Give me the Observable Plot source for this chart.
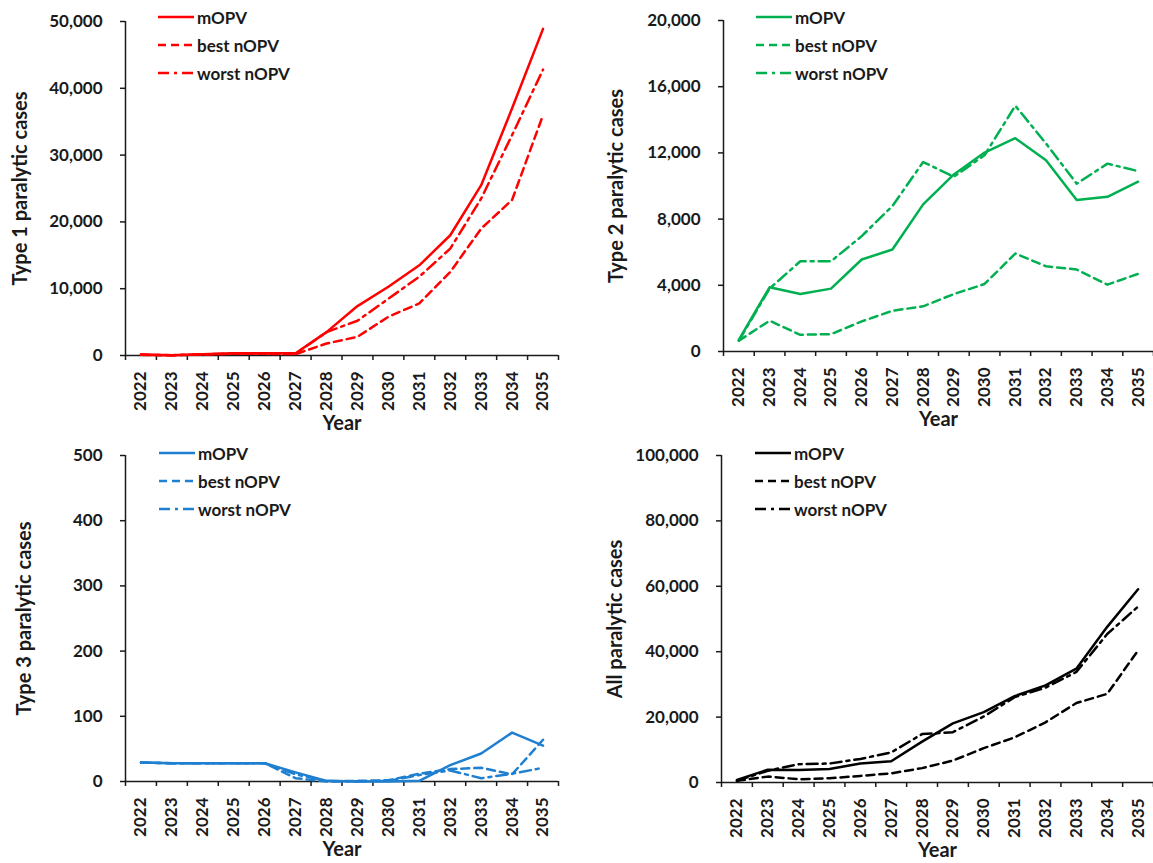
<!DOCTYPE html>
<html><head><meta charset="utf-8">
<script src="https://cdn.jsdelivr.net/npm/d3@7"></script>
<script src="https://cdn.jsdelivr.net/npm/@observablehq/plot@0.6"></script>
<style>
body{margin:0;background:#fff;font-family:Lato,sans-serif}
#wrap{position:relative;width:1153px;height:863px;overflow:hidden}
.panel{position:absolute}
.legend{position:absolute;font:bold 17px Lato,sans-serif;color:#1a1a1a}
.legend .row{position:absolute;left:0;height:28px;display:flex;align-items:center;white-space:nowrap}
.legend svg{display:block;margin-right:3px}
</style></head><body><div id="wrap"></div>
<script>
const years = [2022,2023,2024,2025,2026,2027,2028,2029,2030,2031,2032,2033,2034,2035];
const seriesNames = ["mOPV","best nOPV","worst nOPV"];

const type1Mopv  = [150, 50, 200, 350, 350, 350, 3500, 7400, 10300, 13500, 18000, 25500, 37000, 48900];
const type1Best  = [100, 30, 150, 250, 250, 200, 1800, 2800, 5800, 7800, 12500, 19000, 23300, 36000];
const type1Worst = [120, 40, 180, 300, 300, 300, 3500, 5200, 8500, 11800, 16000, 23500, 33000, 42800];

const type2Mopv  = [700, 3880, 3470, 3800, 5560, 6160, 8890, 10700, 12020, 12890, 11550, 9150, 9350, 10260];
const type2Best  = [650, 1860, 1010, 1050, 1820, 2460, 2730, 3470, 4080, 5920, 5150, 4950, 4040, 4690];
const type2Worst = [650, 3800, 5450, 5450, 6970, 8790, 11450, 10560, 11860, 14850, 12570, 10140, 11350, 10900];

const type3Mopv  = [29, 28, 28, 28, 28, 14, 1, 0, 0, 1, 25, 43, 75, 55];
const type3Best  = [29, 28, 28, 28, 28, 5, 0, 1, 2, 12, 19, 21, 11, 64];
const type3Worst = [29, 28, 28, 28, 28, 11, 1, 0, 1, 10, 17, 5, 12, 21];

const allMopv  = [800, 3900, 3800, 4100, 5800, 6500, 12500, 18100, 21500, 26400, 29700, 34800, 47600, 59100];
const allBest  = [500, 1800, 1000, 1300, 2000, 2800, 4400, 6700, 10500, 13800, 18400, 24300, 27100, 40400];
const allWorst = [500, 3600, 5600, 5800, 7200, 9200, 14800, 15400, 20200, 26100, 29000, 33800, 45400, 53800];

const type1Ticks = [0, 10000, 20000, 30000, 40000, 50000];
const type2Ticks = [0, 4000, 8000, 12000, 16000, 20000];
const type3Ticks = [0, 100, 200, 300, 400, 500];
const allTicks   = [0, 20000, 40000, 60000, 80000, 100000];

const titles = ["Type 1 paralytic cases","Type 2 paralytic cases","Type 3 paralytic cases","All paralytic cases"];
const xTitle = "Year";

const dashes = [null, "8,5", "11,5,3,5"];
const fmt = d3.format(",");
const boundaries = d3.range(years[0] - 0.5, years[years.length-1] + 1, 1);

const panels = [
  {left:0, top:0, width:576, height:430, ml:125, mr:18, mt:21, mb:75, color:"#ff0000",
   series:[type1Mopv,type1Best,type1Worst], ticks:type1Ticks, title:titles[0], tdx:-105,
   legend:{left:158, top:3}},
  {left:576, top:0, width:577, height:430, ml:147, mr:0, mt:20, mb:79, color:"#00b050",
   series:[type2Mopv,type2Best,type2Worst], ticks:type2Ticks, title:titles[1], tdx:-107,
   legend:{left:756, top:3}},
  {left:0, top:430, width:576, height:433, ml:125, mr:18, mt:25, mb:82, color:"#1f7fd0",
   series:[type3Mopv,type3Best,type3Worst], ticks:type3Ticks, title:titles[2], tdx:-101,
   legend:{left:159, top:439}},
  {left:576, top:430, width:577, height:433, ml:145, mr:0, mt:25, mb:81, color:"#000000",
   series:[allMopv,allBest,allWorst], ticks:allTicks, title:titles[3], tdx:-106,
   legend:{left:755, top:439}}
];

const wrap = document.getElementById("wrap");

for (const p of panels) {
  const rows = [];
  p.series.forEach((vals, si) => {
    years.forEach((yr, i) => rows.push({year: yr, value: vals[i], series: seriesNames[si]}));
  });
  const yMax = p.ticks[p.ticks.length - 1];
  const chart = Plot.plot({
    width: p.width, height: p.height,
    marginLeft: p.ml, marginRight: p.mr, marginTop: p.mt, marginBottom: p.mb,
    style: {fontFamily: "Lato, sans-serif", fontSize: "17px", fontWeight: "bold", color: "#1a1a1a", background: "transparent", overflow: "visible"},
    x: {domain: [years[0] - 0.5, years[years.length-1] + 0.5], label: null},
    y: {domain: [0, yMax], label: null},
    marks: [
      Plot.axisY({ticks: p.ticks, tickFormat: fmt, tickSize: 5, tickPadding: 18, strokeWidth: 1.5, label: null}),
      Plot.axisX({ticks: boundaries, tickFormat: () => "", tickSize: 5, strokeWidth: 1.5, label: null}),
      Plot.axisX({ticks: years, tickFormat: d => String(d), tickSize: 0, tickPadding: 16, tickRotate: -90, label: null}),
      Plot.ruleX([years[0] - 0.5], {stroke: "#1a1a1a", strokeWidth: 1.5}),
      Plot.ruleY([0], {stroke: "#1a1a1a", strokeWidth: 1.5}),
      ...seriesNames.map((name, si) => Plot.line(rows.filter(r => r.series === name), {
        x: "year", y: "value", stroke: p.color, strokeWidth: 2.5,
        strokeDasharray: dashes[si] || undefined, strokeLinejoin: "round"
      })),
      Plot.text([p.title], {text: d => d, frameAnchor: "left", textAnchor: "middle", dx: p.tdx, rotate: -90, fontSize: 20, fontWeight: "bold", fill: "#1a1a1a"}),
      Plot.text([xTitle], {text: d => d, frameAnchor: "bottom", textAnchor: "middle", dy: 74, fontSize: 20, fontWeight: "bold", fill: "#1a1a1a"})
    ]
  });
  const div = document.createElement("div");
  div.className = "panel";
  div.style.left = p.left + "px";
  div.style.top = p.top + "px";
  div.appendChild(chart);
  wrap.appendChild(div);

  const leg = document.createElement("div");
  leg.className = "legend";
  leg.style.left = p.legend.left + "px";
  leg.style.top = p.legend.top + "px";
  seriesNames.forEach((name, si) => {
    const row = document.createElement("div");
    row.className = "row";
    row.style.top = (si * 28) + "px";
    const da = dashes[si] ? ` stroke-dasharray="${dashes[si]}"` : "";
    row.innerHTML = `<svg width="36" height="6"><line x1="0" y1="3" x2="36" y2="3" stroke="${p.color}" stroke-width="2.5"${da}/></svg><span>${name}</span>`;
    leg.appendChild(row);
  });
  wrap.appendChild(leg);
}
</script>
</body></html>
